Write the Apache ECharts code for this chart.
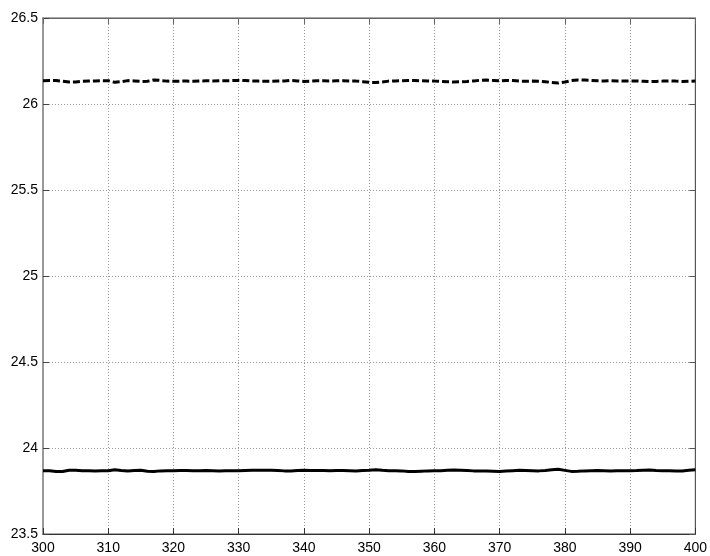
<!DOCTYPE html>
<html>
<head>
<meta charset="utf-8">
<script src="https://cdn.jsdelivr.net/npm/echarts@6/dist/echarts.min.js"></script>
<style>
  html, body { margin: 0; padding: 0; background: #fff; }
  #chart { width: 710px; height: 556px; }
</style>
</head>
<body>
<div id="chart"></div>
<script>
// Sample positions along the x axis
const xValues = [
  300,301,302,303,304,305,306,307,308,309,
  310,311,312,313,314,315,316,317,318,319,
  320,321,322,323,324,325,326,327,328,329,
  330,331,332,333,334,335,336,337,338,339,
  340,341,342,343,344,345,346,347,348,349,
  350,351,352,353,354,355,356,357,358,359,
  360,361,362,363,364,365,366,367,368,369,
  370,371,372,373,374,375,376,377,378,379,
  380,381,382,383,384,385,386,387,388,389,
  390,391,392,393,394,395,396,397,398,399,
  400
];

// Upper trace (dashed)
const dashedValues = [
  26.135,26.136,26.136,26.132,26.128,26.128,26.132,26.133,26.134,26.136,
  26.135,26.126,26.130,26.136,26.134,26.131,26.132,26.140,26.137,26.133,
  26.132,26.133,26.133,26.132,26.134,26.135,26.134,26.135,26.135,26.136,
  26.137,26.136,26.134,26.133,26.132,26.132,26.133,26.134,26.137,26.134,
  26.131,26.133,26.135,26.135,26.134,26.135,26.135,26.134,26.133,26.130,
  26.126,26.125,26.128,26.133,26.134,26.135,26.136,26.136,26.135,26.134,
  26.133,26.131,26.129,26.128,26.129,26.131,26.134,26.138,26.139,26.137,
  26.135,26.137,26.136,26.133,26.132,26.133,26.132,26.130,26.125,26.122,
  26.128,26.136,26.140,26.139,26.137,26.135,26.134,26.135,26.134,26.133,
  26.133,26.134,26.132,26.130,26.131,26.133,26.134,26.133,26.131,26.132,
  26.134
];

// Lower trace (solid)
const solidValues = [
  23.868,23.868,23.864,23.863,23.871,23.870,23.868,23.868,23.867,23.868,
  23.868,23.873,23.869,23.866,23.869,23.870,23.865,23.864,23.867,23.868,
  23.868,23.869,23.869,23.868,23.868,23.869,23.868,23.867,23.868,23.868,
  23.868,23.869,23.870,23.870,23.870,23.870,23.869,23.867,23.866,23.869,
  23.870,23.869,23.869,23.869,23.868,23.869,23.869,23.868,23.866,23.869,
  23.871,23.874,23.870,23.868,23.868,23.867,23.863,23.863,23.865,23.867,
  23.868,23.868,23.870,23.872,23.871,23.869,23.867,23.866,23.866,23.865,
  23.864,23.866,23.868,23.870,23.869,23.868,23.867,23.869,23.873,23.876,
  23.870,23.864,23.865,23.867,23.868,23.869,23.868,23.867,23.868,23.868,
  23.868,23.869,23.871,23.872,23.869,23.868,23.868,23.867,23.866,23.870,
  23.874
];

const xTicks = [300, 310, 320, 330, 340, 350, 360, 370, 380, 390, 400];
const yTicks = [23.5, 24, 24.5, 25, 25.5, 26, 26.5];

const pair = (ys) => xValues.map((x, i) => [x, ys[i]]);

const font = 'Liberation Sans, Arial, sans-serif';
const gridLine = { show: true, lineStyle: { color: '#9a9a9a', type: [1, 2], width: 1 } };

const chart = echarts.init(document.getElementById('chart'), null, { renderer: 'canvas' });
chart.setOption({
  animation: false,
  backgroundColor: '#ffffff',
  grid: { left: 43, right: 12, top: 18, bottom: 22, containLabel: false,
          show: true, borderColor: '#555', borderWidth: 1 },
  xAxis: [
    {
      type: 'value', min: 300, max: 400, interval: 10, position: 'bottom',
      axisLine: { show: true, lineStyle: { color: '#333', width: 1 } },
      axisTick: { show: true, inside: true, length: 6, lineStyle: { color: '#333' } },
      axisLabel: { color: '#000', fontSize: 14, fontFamily: font, margin: 7,
                   formatter: (v) => xTicks.includes(v) ? String(v) : '' },
      splitLine: gridLine
    },
    {
      type: 'value', min: 300, max: 400, interval: 10, position: 'top',
      axisLine: { show: true, lineStyle: { color: '#666', width: 1 } },
      axisTick: { show: true, inside: true, length: 6, lineStyle: { color: '#666' } },
      axisLabel: { show: false },
      splitLine: { show: false }
    }
  ],
  yAxis: [
    {
      type: 'value', min: 23.5, max: 26.5, interval: 0.5, position: 'left',
      axisLine: { show: true, lineStyle: { color: '#999', width: 2 } },
      axisTick: { show: true, inside: true, length: 6, lineStyle: { color: '#444' } },
      axisLabel: { color: '#000', fontSize: 14, fontFamily: font, margin: 5,
                   formatter: (v) => yTicks.includes(v) ? String(v) : '' },
      splitLine: gridLine
    },
    {
      type: 'value', min: 23.5, max: 26.5, interval: 0.5, position: 'right',
      axisLine: { show: true, lineStyle: { color: '#555', width: 1 } },
      axisTick: { show: true, inside: true, length: 6, lineStyle: { color: '#555' } },
      axisLabel: { show: false },
      splitLine: { show: false }
    }
  ],
  series: [
    {
      type: 'line', xAxisIndex: 0, yAxisIndex: 0, data: pair(dashedValues),
      showSymbol: false, smooth: false,
      lineStyle: { color: '#000', width: 3, type: [7, 3] }
    },
    {
      type: 'line', xAxisIndex: 0, yAxisIndex: 0, data: pair(solidValues),
      showSymbol: false, smooth: false,
      lineStyle: { color: '#000', width: 3, type: 'solid' }
    }
  ]
});
</script>
</body>
</html>
